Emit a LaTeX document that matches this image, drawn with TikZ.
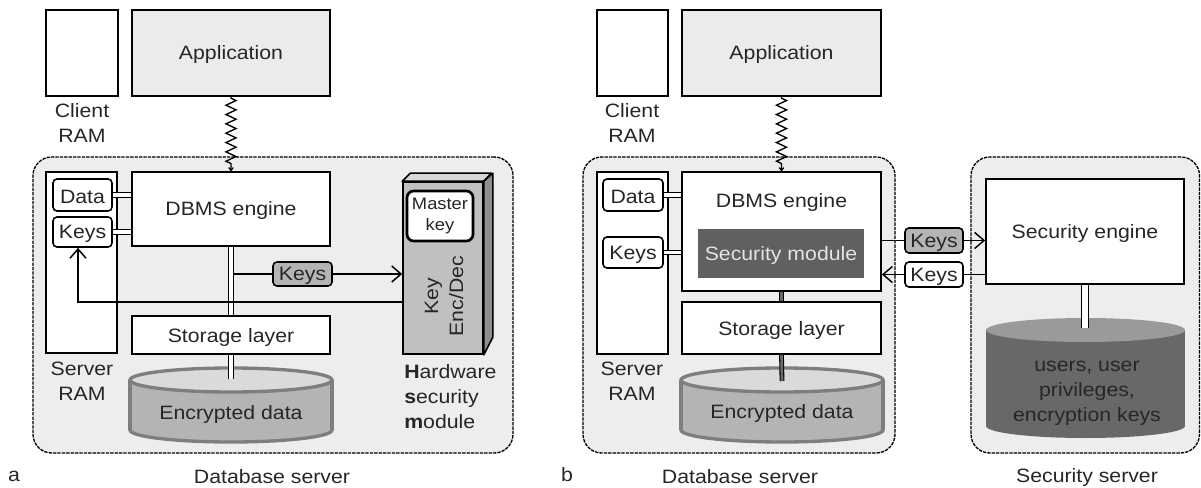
\documentclass[tikz,border=0pt]{standalone}
\usepackage{fontspec}
\setmainfont{Liberation Sans}[FakeStretch=1.1]
\usetikzlibrary{arrows.meta, decorations.pathmorphing, fit}
\definecolor{panelbg}{HTML}{EDEDED}
\definecolor{appbg}{HTML}{EBEBEB}
\definecolor{keygray}{HTML}{B4B4B4}
\definecolor{txt}{HTML}{262626}
\definecolor{hsmfront}{HTML}{C0C0C0}
\definecolor{hsmtop}{HTML}{D8D8D8}
\definecolor{hsmside}{HTML}{8E8E8E}
\definecolor{cylbody}{HTML}{B4B4B4}
\definecolor{cyltop}{HTML}{DADADA}
\definecolor{cylborder}{HTML}{7E7E7E}
\definecolor{secgray}{HTML}{606060}
\definecolor{sectext}{HTML}{E4E4E4}
\definecolor{dcylbody}{HTML}{686868}
\definecolor{dcyltop}{HTML}{9A9A9A}
\definecolor{linkgray}{HTML}{6A6A6A}
\begin{document}
\begin{tikzpicture}[x=0.75pt, y=-0.75pt, font=\fontsize{14.5}{18.75}\selectfont, text=txt,
  box/.style={draw=black, line width=1.3pt, fill=white, inner sep=0pt},
  rbox/.style={draw=black, line width=1.2pt, rounded corners=3pt, fill=white, inner sep=0pt},
  panel/.style={draw=black, dash pattern=on 2.5pt off 0.8pt, line width=1pt, rounded corners=14pt, fill=panelbg, inner sep=0pt},
  link/.style={draw=black, line width=1.1pt},
  dlink/.style={draw=black, double=white, double distance=2.6pt, line width=0.8pt},
  glink/.style={draw=black, double=linkgray, double distance=2pt, line width=0.8pt},
  arr/.style={-{Straight Barb[length=7pt, width=12pt, line width=1.1pt]}},
  zz/.style={draw=black, line width=1pt, decorate, decoration={zigzag, segment length=7pt, amplitude=3.8pt, pre length=1pt, post length=5pt}, -{To[length=3pt,width=4pt]}},
  lbl/.style={align=center, inner sep=0pt},
  txtc/.style={label={[lbl, yshift=-1.5pt]center:#1}}]
\useasboundingbox (0,0) rectangle (1201,488);

% ================= panel a =================
\node[panel, fit={(33,157)(513,453)}] (dsa) {};
\node[box, fit={(46,10)(118,96)}] (cra) {};
\node[box, fill=appbg, fit={(132,10)(330,96)}, txtc=Application] (appa) {};
\node[lbl] (crla) at (82,122.5) {Client\\RAM};
\node[box, fit={(46,172)(117,353)}] (sra) {};
\node[lbl] (srla) at (82,381) {Server\\RAM};
\node[rbox, fit={(53,179)(112,211)}, txtc=Data] (dataa) {};
\node[rbox, fit={(53,217)(112,247)}, txtc=Keys] (keysa) {};
\node[box, fit={(132,172)(330,246)}, txtc={DBMS engine}] (dbmsa) {};
\node[box, fit={(132,316)(330,354)}, txtc={Storage layer}] (stora) {};
\draw[dlink] (dataa.east) -- (dataa.east -| dbmsa.west);
\draw[dlink] (keysa.east) -- (keysa.east -| dbmsa.west);
\draw[zz] (appa.south) -- (dbmsa.north);

% HSM
\node[draw=black, line width=1.2pt, fill=hsmfront, inner sep=0pt, fit={(403,182)(483,354)}] (hsma) {};
\draw[line width=1.2pt, fill=hsmtop, line join=round] (hsma.north west) -- ++(8,-8) -- ++(81,0) -- (hsma.north east) -- cycle;
\draw[line width=1.2pt, fill=hsmside, line join=round] (hsma.north east) -- ++(9,-8) -- ++(0,164) -- (hsma.south east) -- cycle;
\node[rbox, line width=2pt, rounded corners=5pt, fit={(407,191)(473,241)}] (mka) {};
\node[lbl, font=\fontsize{12.5}{16}\selectfont] (mkt) at (mka) {Master\\key};
\node[rotate=90, lbl] (keda) at (444,296) {Key\\Enc/Dec};
\node[anchor=north west, align=left, inner sep=0pt] (hsml) at (404,364) {\textbf{H}ardware\\\textbf{s}ecurity\\\textbf{m}odule};

% DBMS -> storage and keys
\draw[dlink] (dbmsa.south) -- (stora.north);
\node[rbox, fill=keygray, fit={(273,262)(332,286)}, txtc=Keys] (kga) {};
\coordinate (ja) at (233.5,274);
\draw[link] (ja) -- (kga.west);
\draw[link, arr] (kga.east) -- (kga.east -| hsma.west);
\coordinate (ra) at (78,302);
\draw[link, arr] (ra -| hsma.west) -- (ra) -- (keysa.south -| ra);

% cylinder a
\fill[cylbody] (130,380) rectangle (332,430);
\draw[fill=cylbody, draw=cylborder, line width=2.5pt] (231,430) ellipse [x radius=101, y radius=12];
\fill[cylbody] (131.3,380) rectangle (330.7,430);
\draw[cylborder, line width=2.5pt] (130,380) -- (130,430) (332,380) -- (332,430);
\draw[fill=cyltop, draw=cylborder, line width=2.5pt] (231,380) ellipse [x radius=101, y radius=12];
\node (enca) at (231,414) {Encrypted data};
\coordinate (cta) at (231,379);
\draw[dlink] (stora.south) -- (cta);

\node (la) at (14,476) {a};
\node (dsla) at (272,477) {Database server};

% ================= panel b =================
\node[panel, fit={(583,157)(895,453)}] (dsb) {};
\node[panel, fit={(971,157)(1199.5,453)}] (ssb) {};
\node[box, fit={(597,10)(668,96)}] (crb) {};
\node[box, fill=appbg, fit={(682,10)(881,96)}, txtc=Application] (appb) {};
\node[lbl] (crlb) at (632,122.5) {Client\\RAM};
\node[box, fit={(597,172)(668,354)}] (srb) {};
\node[lbl] (srlb) at (632,381) {Server\\RAM};
\node[rbox, fit={(603,179)(663,211)}, txtc=Data] (datab) {};
\node[rbox, fit={(603,237)(663,268)}, txtc=Keys] (keysb) {};
\node[box, fit={(682,172)(881,291)}] (dbmsb) {};
\node (dbmslb) at (781.5,203) {DBMS engine};
\node[fill=secgray, inner sep=0pt, fit={(698,229)(864,278)}] (secm) {};
\node[text=sectext, lbl, yshift=-1.5pt] (secmt) at (secm) {Security module};
\node[box, fit={(682,302)(881,354)}, txtc={Storage layer}] (storb) {};
\draw[dlink] (datab.east) -- (datab.east -| dbmsb.west);
\draw[dlink] (keysb.east) -- (keysb.east -| dbmsb.west);
\draw[zz] (appb.south) -- (dbmsb.north);
\draw[glink] (dbmsb.south) -- (storb.north);

% cylinder b
\fill[cylbody] (681,380) rectangle (883,430);
\draw[fill=cylbody, draw=cylborder, line width=2.5pt] (782,430) ellipse [x radius=101, y radius=12];
\fill[cylbody] (682.3,380) rectangle (881.7,430);
\draw[cylborder, line width=2.5pt] (681,380) -- (681,430) (883,380) -- (883,430);
\draw[fill=cyltop, draw=cylborder, line width=2.5pt] (782,380) ellipse [x radius=101, y radius=12];
\node (encb) at (782,413) {Encrypted data};
\coordinate (ctb) at (782,381);
\draw[glink] (storb.south) -- (ctb);

% security server
\node[box, fit={(986,179)(1184,284)}, txtc={Security engine}] (sec) {};
\node[rbox, fill=keygray, fit={(905,228)(963,253)}, txtc=Keys] (kgb) {};
\node[rbox, fit={(905,262)(963,287)}, txtc=Keys] (kwb) {};
\draw[link] (dbmsb.east |- kgb.west) -- (kgb.west);
\draw[link, arr] (kgb.east) -- (sec.west |- kgb.east);
\draw[link] (sec.west |- kwb.east) -- (kwb.east);
\draw[link, arr] (kwb.west) -- (dbmsb.east |- kwb.west);

% dark cylinder
\fill[dcylbody] (986,330) rectangle (1185,426);
\fill[dcylbody] (1085.5,426) ellipse [x radius=99.5, y radius=12];
\fill[dcyltop] (1085.5,330) ellipse [x radius=99.5, y radius=12];
\node[lbl] (usr) at (1087,393) {users, user\\privileges,\\encryption keys};
\coordinate (ctc) at (1085,328);
\draw[draw=black, double=white, double distance=4.5pt, line width=0.8pt] (sec.south -| ctc) -- (ctc);

\node (lb) at (567,475) {b};
\node (dslb) at (740,477) {Database server};
\node (ssl) at (1087,477) {Security server};
\end{tikzpicture}
\end{document}
